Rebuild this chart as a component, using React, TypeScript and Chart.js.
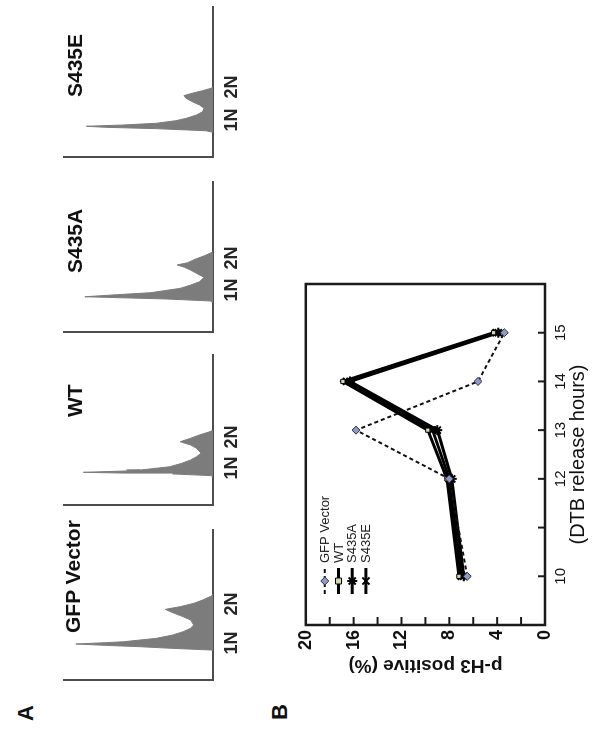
import React, { useEffect, useRef } from "react";
import { Chart, registerables } from "chart.js";

Chart.register(...registerables);

const FONT = "'Liberation Sans', Arial, Helvetica, sans-serif";

// ---------- Panel A: DNA-content histograms (relative DNA content vs. cell count) ----------
const panelTitles = ["GFP Vector", "WT", "S435A", "S435E"];
const ploidyLabels = ["1N", "2N"];

const gfpDna = [19.5, 20, 21.1, 22.2, 23.1, 24, 24.9, 25.5, 27.8, 30, 32.2, 34.5, 36.7, 40, 42.2, 44.9, 47.1, 48.9, 51.1, 53.3, 56, 57.3];
const gfpCounts = [0, 1.3, 27, 49, 72, 92, 72, 60, 38, 27, 20, 15, 13, 15, 20, 27, 32, 22, 13, 7, 1, 0];
const gfpLabelPos = [24.7, 50.7];

const wtDna = [18.4, 19.6, 20.7, 21.3, 21.8, 22.7, 23.3, 25.5, 27.8, 30, 32.2, 34.5, 37.8, 40, 42.2, 44.5, 46.7, 48.9, 50];
const wtCounts = [0, 1.1, 27, 60, 87, 58, 49, 29, 21, 15, 11, 8, 11, 15, 22, 15, 9, 2, 0];
const wtLabelPos = [24.7, 45.3];

const s435aDna = [19.5, 20.7, 22, 22.9, 23.5, 24.9, 26.2, 27.5, 29.1, 31.3, 33.5, 36.5, 39.1, 41.3, 43.1, 44.7, 46.2, 48.5, 50.7, 52.5, 53.5];
const s435aCounts = [0, 1.8, 31, 64, 86, 64, 42, 33, 22, 15, 9, 6, 11, 15, 19, 24, 17, 12, 6, 2, 0];
const s435aLabelPos = [28, 49.3];

const s435eDna = [16.5, 17.5, 18.9, 19.8, 20.5, 21.3, 22.5, 24.2, 25.8, 28, 30.2, 32.5, 34.7, 36.9, 39.1, 40.9, 42.5, 44.2, 45.8, 46.9];
const s435eCounts = [0, 4.7, 38, 72, 85, 61, 38, 25, 18, 11, 7, 6, 9, 14, 18, 19.5, 14, 7, 1.3, 0];
const s435eLabelPos = [24.7, 46.7];

// ---------- Panel B: p-H3 positive (%) vs DTB release hours ----------
const hours = [10, 12, 13, 14, 15];
const hourTicks = [10, 11, 12, 13, 14, 15];
const hourTickLabels = ["10", "", "12", "13", "14", "15"];
const seriesNames = ["GFP Vector", "WT", "S435A", "S435E"];
const gfpVector = [6.5, 8.0, 15.8, 5.6, 3.4];
const wtSeries = [7.2, 8.2, 9.8, 16.9, 4.3];
const s435aSeries = [6.8, 7.8, 9.0, 16.3, 3.9];
const s435eSeries = [7.0, 8.0, 9.4, 16.6, 4.1];

function drawMarker(ctx: CanvasRenderingContext2D, style: string, x: number, y: number, r: number, fill: string, stroke: string, lw: number) {
  ctx.save();
  ctx.setLineDash([]);
  ctx.fillStyle = fill;
  ctx.strokeStyle = stroke;
  ctx.lineWidth = lw;
  ctx.beginPath();
  if (style === "rectRot") {
    ctx.moveTo(x, y - r);
    ctx.lineTo(x + r, y);
    ctx.lineTo(x, y + r);
    ctx.lineTo(x - r, y);
    ctx.closePath();
    ctx.fill();
    ctx.stroke();
  } else if (style === "rect") {
    ctx.rect(x - r, y - r, 2 * r, 2 * r);
    ctx.fill();
    ctx.stroke();
  } else if (style === "star") {
    const d = r * Math.SQRT1_2;
    ctx.moveTo(x - r, y); ctx.lineTo(x + r, y);
    ctx.moveTo(x, y - r); ctx.lineTo(x, y + r);
    ctx.moveTo(x - d, y - d); ctx.lineTo(x + d, y + d);
    ctx.moveTo(x - d, y + d); ctx.lineTo(x + d, y - d);
    ctx.stroke();
  } else {
    const d = r * Math.SQRT1_2;
    ctx.moveTo(x - d, y - d); ctx.lineTo(x + d, y + d);
    ctx.moveTo(x - d, y + d); ctx.lineTo(x + d, y - d);
    ctx.stroke();
  }
  ctx.restore();
}

const frameAndTicks = {
  id: "frameAndTicks",
  afterDraw(chart: any) {
    const { ctx, chartArea: a, scales } = chart;
    const x = scales.x;
    const y = scales.y;
    ctx.save();
    ctx.strokeStyle = "#1a1a1a";
    ctx.lineWidth = 2;
    x.ticks.forEach((t: any) => {
      const px = x.getPixelForValue(t.value);
      ctx.beginPath();
      ctx.moveTo(px, a.bottom);
      ctx.lineTo(px, a.bottom - 7);
      ctx.stroke();
    });
    y.ticks.forEach((t: any) => {
      if (t.value <= y.min || t.value >= y.max) return;
      const py = y.getPixelForValue(t.value);
      ctx.beginPath();
      ctx.moveTo(a.left, py);
      ctx.lineTo(a.left + 8, py);
      ctx.stroke();
    });
    ctx.lineWidth = 2.5;
    ctx.strokeRect(a.left, a.top, a.right - a.left, a.bottom - a.top);
    ctx.restore();
  },
};

const innerLegend = {
  id: "innerLegend",
  afterDatasetsDraw(chart: any) {
    const { ctx, chartArea: a } = chart;
    const offX = 31, offY = 19, gap = 13.7, len = 26;
    chart.data.datasets.forEach((ds: any, i: number) => {
      const y = a.top + offY + i * gap;
      const x0 = a.left + offX;
      ctx.save();
      ctx.strokeStyle = ds.borderColor;
      ctx.lineWidth = ds.borderWidth;
      ctx.setLineDash(ds.borderDash || []);
      ctx.beginPath();
      ctx.moveTo(x0, y);
      ctx.lineTo(x0 + len, y);
      ctx.stroke();
      ctx.restore();
      drawMarker(ctx, ds.pointStyle, x0 + len / 2, y, ds.pointRadius, ds.pointBackgroundColor, ds.pointBorderColor, ds.pointBorderWidth);
      ctx.save();
      ctx.fillStyle = "#222";
      ctx.font = `13px ${FONT}`;
      ctx.textBaseline = "middle";
      ctx.fillText(ds.label, x0 + len + 5, y + 0.5);
      ctx.restore();
    });
  },
};

function histConfig(dna: number[], counts: number[], labelPos: number[]): any {
  return {
    type: "line",
    data: {
      datasets: [
        {
          data: dna.map((d, i) => ({ x: d, y: counts[i] })),
          fill: "origin",
          backgroundColor: "#7c7c7c",
          borderColor: "#7c7c7c",
          borderWidth: 1,
          pointRadius: 0,
          tension: 0,
        },
      ],
    },
    options: {
      animation: false,
      responsive: false,
      events: [],
      layout: { padding: { left: 10, right: 10, top: 14, bottom: 0 } },
      plugins: { legend: { display: false }, tooltip: { enabled: false } },
      scales: {
        x: {
          type: "linear",
          min: 0,
          max: 100,
          grid: { display: false, drawTicks: false },
          border: { display: true, color: "#4d4d4d", width: 2 },
          afterBuildTicks: (s: any) => {
            s.ticks = labelPos.map((v) => ({ value: v }));
          },
          afterFit: (s: any) => {
            s.height = 40;
          },
          ticks: {
            autoSkip: false,
            maxRotation: 0,
            minRotation: 0,
            padding: 8,
            color: "#262626",
            font: { family: FONT, size: 18, weight: "bold" },
            callback: (_v: any, i: number) => ploidyLabels[i],
          },
        },
        y: {
          min: 0,
          max: 100,
          grid: { display: false, drawTicks: false },
          border: { display: true, color: "#4d4d4d", width: 2 },
          ticks: { display: false },
          afterFit: (s: any) => {
            s.width = 0;
          },
        },
      },
    },
  };
}

function lineConfig(): any {
  const pts = (vals: number[]) => hours.map((h, i) => ({ x: h, y: vals[i] }));
  return {
    type: "line",
    data: {
      datasets: [
        {
          label: seriesNames[0],
          data: pts(gfpVector),
          borderColor: "#111",
          borderWidth: 2,
          borderDash: [4, 3],
          pointStyle: "rectRot",
          pointRadius: 4,
          pointBackgroundColor: "#8d9bc9",
          pointBorderColor: "#2b2b40",
          pointBorderWidth: 1,
          tension: 0,
          fill: false,
        },
        {
          label: seriesNames[1],
          data: pts(wtSeries),
          borderColor: "#000",
          borderWidth: 3,
          pointStyle: "rect",
          pointRadius: 3,
          pointBackgroundColor: "#d4dba8",
          pointBorderColor: "#000",
          pointBorderWidth: 1,
          tension: 0,
          fill: false,
        },
        {
          label: seriesNames[2],
          data: pts(s435aSeries),
          borderColor: "#000",
          borderWidth: 3,
          pointStyle: "star",
          pointRadius: 5,
          pointBackgroundColor: "#000",
          pointBorderColor: "#000",
          pointBorderWidth: 2,
          tension: 0,
          fill: false,
        },
        {
          label: seriesNames[3],
          data: pts(s435eSeries),
          borderColor: "#000",
          borderWidth: 3,
          pointStyle: "crossRot",
          pointRadius: 5,
          pointBackgroundColor: "#000",
          pointBorderColor: "#000",
          pointBorderWidth: 2,
          tension: 0,
          fill: false,
        },
      ],
    },
    options: {
      animation: false,
      responsive: false,
      events: [],
      layout: { padding: { left: 0, right: 19, top: 13, bottom: 0 } },
      plugins: { legend: { display: false }, tooltip: { enabled: false } },
      scales: {
        x: {
          type: "linear",
          min: 9,
          max: 16,
          grid: { display: false, drawTicks: false },
          border: { display: false },
          afterBuildTicks: (s: any) => {
            s.ticks = hourTicks.map((v) => ({ value: v }));
          },
          afterFit: (s: any) => {
            s.height = 55;
          },
          ticks: {
            autoSkip: false,
            maxRotation: 0,
            minRotation: 0,
            padding: 7,
            color: "#111",
            font: { family: FONT, size: 15 },
            callback: (_v: any, i: number) => hourTickLabels[i],
          },
          title: {
            display: true,
            text: "(DTB release hours)",
            color: "#111",
            font: { family: FONT, size: 20 },
            padding: { top: 0, bottom: 10 },
          },
        },
        y: {
          min: 0,
          max: 20,
          grid: { display: false, drawTicks: false },
          border: { display: false },
          afterFit: (s: any) => {
            s.width = 70;
          },
          ticks: {
            stepSize: 2,
            autoSkip: false,
            padding: 5,
            color: "#111",
            font: { family: FONT, size: 18, weight: "bold" },
            callback: (v: any) => (Number(v) % 4 === 0 ? String(v) : ""),
          },
          title: {
            display: true,
            text: "p-H3 positive (%)",
            color: "#111",
            font: { family: FONT, size: 19, weight: "bold" },
            padding: { top: 18, bottom: 0 },
          },
        },
      },
    },
    plugins: [frameAndTicks, innerLegend],
  };
}

function ChartCanvas(props: { make: () => any; left: number; top: number; width: number; height: number }) {
  const ref = useRef<HTMLCanvasElement>(null);
  useEffect(() => {
    const chart = new Chart(ref.current as HTMLCanvasElement, props.make());
    return () => chart.destroy();
  }, []);
  return (
    <canvas
      ref={ref}
      width={props.width}
      height={props.height}
      style={{ position: "absolute", left: props.left, top: props.top, width: props.width, height: props.height }}
    />
  );
}

const labelStyle = (left: number, top: number, size: number): React.CSSProperties => ({
  position: "absolute",
  left,
  top,
  fontFamily: FONT,
  fontWeight: "bold",
  fontSize: size,
  lineHeight: `${size}px`,
  color: "#111",
  whiteSpace: "nowrap",
});

export default function App() {
  const hists = [
    { dna: gfpDna, counts: gfpCounts, pos: gfpLabelPos, left: 45, titleLeft: 102, titleTop: 62 },
    { dna: wtDna, counts: wtCounts, pos: wtLabelPos, left: 220, titleLeft: 318, titleTop: 64 },
    { dna: s435aDna, counts: s435aCounts, pos: s435aLabelPos, left: 393, titleLeft: 462, titleTop: 64 },
    { dna: s435eDna, counts: s435eCounts, pos: s435eLabelPos, left: 568, titleLeft: 638, titleTop: 64 },
  ];
  return (
    <div style={{ position: "fixed", left: 0, top: 0, width: 594, height: 735, overflow: "hidden", background: "#fff" }}>
      <div
        style={{
          position: "absolute",
          left: 0,
          top: 0,
          width: 735,
          height: 594,
          transformOrigin: "0 0",
          transform: "translateY(735px) rotate(-90deg)",
        }}
      >
        <div style={labelStyle(14, 15, 22)}>A</div>
        <div style={labelStyle(15, 269, 22)}>B</div>
        {hists.map((h, i) => (
          <React.Fragment key={i}>
            <ChartCanvas make={() => histConfig(h.dna, h.counts, h.pos)} left={h.left} top={50} width={170} height={203} />
            <div style={labelStyle(h.titleLeft, h.titleTop, 21)}>{panelTitles[i]}</div>
          </React.Fragment>
        ))}
        <ChartCanvas make={lineConfig} left={40} top={290} width={430} height={310} />
      </div>
    </div>
  );
}
